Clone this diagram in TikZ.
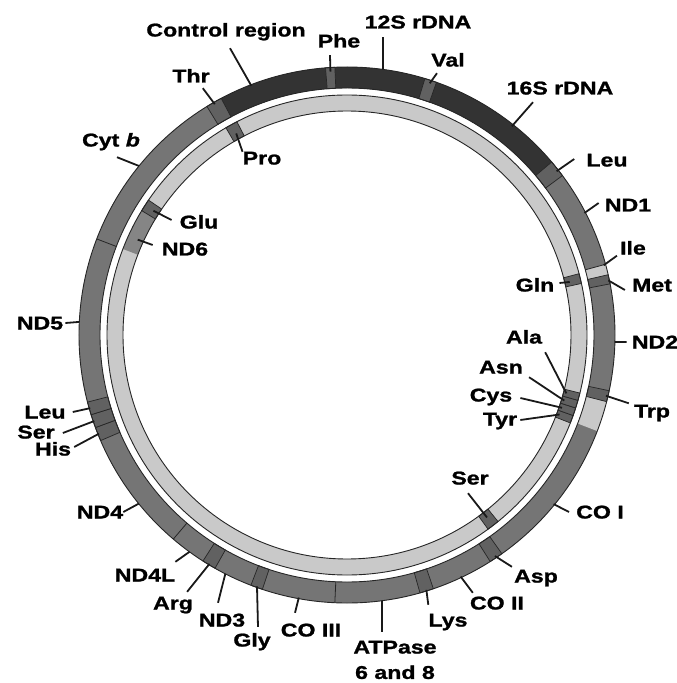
\documentclass[tikz,border=0pt]{standalone}
\usepackage{fontspec}
\setmainfont{Liberation Sans}[FakeStretch=1.25, BoldFeatures={FakeBold=1.2}, BoldItalicFeatures={FakeBold=1.2}]
\usetikzlibrary{positioning}
\tikzset{
  lbl/.style = {
    font=\bfseries\fontsize{18.5pt}{20pt}\selectfont,
    inner sep=1pt, text height=13pt, text depth=0pt
  },
  lblline/.style = {line width=1.8pt, black!90},
  ringedge/.style = {line width=0.9pt, black!85},
  outermid/.style = {fill=black!54},
  outerdark/.style = {fill=black!80},
  ringpale/.style = {fill=black!21},
  ndsix/.style = {fill=black!48},
  trna/.style = {fill=black!62, draw=black!85, line width=0.7pt},
  trnain/.style = {fill=black!62, draw=black!85, line width=0.7pt},
  sep/.style = {line width=0.8pt, black!85}
}
% band of a ring: style, from angle, to angle, outer radius, inner radius
\newcommand{\ringband}[5]{%
  \path[#1] (#2:#4) arc[start angle=#2, end angle=#3, radius=#4pt]
    -- (#3:#5) arc[start angle=#3, end angle=#2, radius=#5pt] -- cycle;}

\begin{document}
\begin{tikzpicture}[x=1pt, y=1pt]
\useasboundingbox (-347,-348) rectangle (330,335);

% ----- RINGS -----
\ringband{outermid}{0}{360}{268}{247}
\ringband{ringpale}{0}{360}{240}{224}
\ringband{outerdark}{40.2}{118}{268}{247}   % control region, 12S, 16S
\ringband{ringpale}{339}{345.6}{268}{247}
\ringband{ringpale}{13}{15.3}{268}{247}     % Ile
\ringband{ndsix}{148.8}{159}{240}{224}      % ND6

% tRNA boxes, outer ring
\ringband{trna}{118}{121.5}{268}{247}     % Thr
\ringband{trna}{92.6}{94.6}{268}{247}     % Phe
\ringband{trna}{70.5}{73.1}{268}{247}     % Val
\ringband{trna}{36.5}{40.2}{268}{247}     % Leu
\ringband{trna}{11}{13}{268}{247}         % Met
\ringband{trna}{345.6}{348}{268}{247}     % Trp
\ringband{trna}{302.3}{305.3}{268}{247}   % Asp
\ringband{trna}{285.8}{288.8}{268}{247}   % Lys
\ringband{trna}{249}{251.6}{268}{247}     % Gly
\ringband{trna}{237.5}{240.5}{268}{247}   % Arg
\ringband{trna}{200.2}{203.2}{268}{247}   % His
\ringband{trna}{197.3}{200.2}{268}{247}   % Ser
\ringband{trna}{194.5}{197.3}{268}{247}   % Leu

% tRNA boxes, inner ring
\ringband{trnain}{117.3}{120.3}{240}{224} % Pro
\ringband{trnain}{145.8}{148.8}{240}{224} % Glu
\ringband{trnain}{12.4}{14.8}{240}{224}   % Gln
\ringband{trnain}{338.5}{340.4}{240}{224} % Tyr
\ringband{trnain}{340.4}{342.3}{240}{224} % Cys
\ringband{trnain}{342.3}{344.2}{240}{224} % Asn
\ringband{trnain}{344.2}{346}{240}{224}   % Ala
\ringband{trnain}{306}{309}{240}{224}     % Ser

% gene borders
\draw[sep] (159:247) -- (159:268);
\draw[sep] (229.6:247) -- (229.6:268);
\draw[sep] (267.4:247) -- (267.4:268);
\draw[sep] (15.3:247) -- (15.3:268);

\draw[ringedge] (0,0) circle[radius=268pt];
\draw[ringedge] (0,0) circle[radius=247pt];
\draw[ringedge] (0,0) circle[radius=240pt];
\draw[ringedge] (0,0) circle[radius=224pt];

% ----- NODES (outside) -----
\node[lbl] (ctrl) at (-121,305) {Control region};
\node[lbl] (phe)  at (-8,294)   {Phe};
\node[lbl] (s12)  at (71,313)   {12S rDNA};
\node[lbl] (val)  at (101,275)  {Val};
\node[lbl] (s16)  at (213,247)  {16S rDNA};
\node[lbl] (leuA) at (260,175)  {Leu};
\node[lbl] (nd1)  at (281,130)  {ND1};
\node[lbl] (ile)  at (286,87)   {Ile};
\node[lbl] (met)  at (305,50)   {Met};
\node[lbl] (nd2)  at (308,-7)   {ND2};
\node[lbl] (trp)  at (305,-76)  {Trp};
\node[lbl] (co1)  at (253,-177) {CO I};
\node[lbl] (asp)  at (189,-241) {Asp};
\node[lbl] (co2)  at (150,-268) {CO II};
\node[lbl] (lys)  at (101,-285) {Lys};
\node[lbl] (atp)  at (48,-312)  {ATPase};
\node[lbl, below=10pt of atp] (atpB) {6 and 8};
\node[lbl] (co3)  at (-36,-295) {CO III};
\node[lbl] (gly)  at (-95,-305) {Gly};
\node[lbl] (nd3)  at (-125,-285) {ND3};
\node[lbl] (arg)  at (-174,-268) {Arg};
\node[lbl] (nd4l) at (-202,-240) {ND4L};
\node[lbl] (nd4)  at (-247,-177) {ND4};
\node[lbl] (his)  at (-294,-114) {His};
\node[lbl] (serA) at (-311,-97) {Ser};
\node[lbl] (leuB) at (-302,-77) {Leu};
\node[lbl] (nd5)  at (-307,12)  {ND5};
\node[lbl] (cytb) at (-236,195) {Cyt \textit{b}};
\node[lbl] (thr)  at (-156,259) {Thr};

% ----- NODES (inside) -----
\node[lbl] (pro)  at (-85,177)  {Pro};
\node[lbl] (glu)  at (-148,113) {Glu};
\node[lbl] (nd6)  at (-162,86)  {ND6};
\node[lbl] (gln)  at (188,50)   {Gln};
\node[lbl] (ala)  at (177,-2)   {Ala};
\node[lbl] (asn)  at (154,-32)  {Asn};
\node[lbl] (cys)  at (144,-60)  {Cys};
\node[lbl] (tyr)  at (153,-84)  {Tyr};
\node[lbl] (serB) at (123,-143) {Ser};

% ----- RING POINTS -----
\coordinate (ctrl-r) at (111:267);
\coordinate (phe-r)  at (93.6:264);
\coordinate (s12-r)  at (82.3:268);
\coordinate (val-r)  at (71.8:265);
\coordinate (s16-r)  at (51.7:266);
\coordinate (leuA-r) at (38:266);
\coordinate (nd1-r)  at (27.2:267);
\coordinate (ile-r)  at (15.2:266);
\coordinate (met-r)  at (11.8:267);
\coordinate (nd2-r)  at (358.5:268);
\coordinate (trp-r)  at (346.8:266);
\coordinate (co1-r)  at (320.7:267);
\coordinate (asp-r)  at (303.8:266);
\coordinate (co2-r)  at (295.2:267);
\coordinate (lys-r)  at (287.3:267);
\coordinate (atp-r)  at (277.5:268);
\coordinate (co3-r)  at (259.6:267);
\coordinate (gly-r)  at (250.3:267);
\coordinate (nd3-r)  at (243:268);
\coordinate (arg-r)  at (239:267);
\coordinate (nd4l-r) at (234:268);
\coordinate (nd4-r)  at (219:268);
\coordinate (his-r)  at (201.7:267);
\coordinate (serA-r) at (198.8:267);
\coordinate (leuB-r) at (195.9:267);
\coordinate (nd5-r)  at (177.2:268);
\coordinate (cytb-r) at (140.9:268);
\coordinate (thr-r)  at (119.8:266);
\coordinate (pro-r)  at (118.8:230);
\coordinate (glu-r)  at (147.3:230);
\coordinate (nd6-r)  at (155.5:230);
\coordinate (gln-r)  at (13.4:229);
\coordinate (ala-r)  at (345.1:227);
\coordinate (asn-r)  at (343.2:227);
\coordinate (cys-r)  at (341.3:227);
\coordinate (tyr-r)  at (339.5:227);
\coordinate (serB-r) at (307.5:230);

% ----- LEADER LINES -----
\draw[lblline] ([shift={(4,-10.5)}]ctrl.south) -- (ctrl-r);
\draw[lblline] ([shift={(-9,-6.5)}]phe.south) -- (phe-r);
\draw[lblline] ([shift={(-35,-7.5)}]s12.south) -- (s12-r);
\draw[lblline] ([shift={(-11,-5.5)}]val.south) -- (val-r);
\draw[lblline] ([shift={(-27,-6.5)}]s16.south) -- (s16-r);
\draw[lblline] ([shift={(-11,1)}]leuA.west) -- (leuA-r);
\draw[lblline] ([shift={(-5,2)}]nd1.west) -- (nd1-r);
\draw[lblline] ([shift={(-2,0)}]ile.south west) -- (ile-r);
\draw[lblline] ([shift={(-6,-5)}]met.west) -- (met-r);
\draw[lblline] ([shift={(-4,0)}]nd2.west) -- (nd2-r);
\draw[lblline] ([shift={(-4,0)}]trp.north west) -- (trp-r);
\draw[lblline] ([shift={(-6,0)}]co1.west) -- (co1-r);
\draw[lblline] ([shift={(-1,1.5)}]asp.north west) -- (asp-r);
\draw[lblline] ([shift={(4,2.5)}]co2.north west) -- (co2-r);
\draw[lblline] ([shift={(1,7.5)}]lys.north west) -- (lys-r);
\draw[lblline] ([shift={(-13,7.5)}]atp.north) -- (atp-r);
\draw[lblline] ([shift={(-16,9.5)}]co3.north) -- (co3-r);
\draw[lblline] ([shift={(6,5.5)}]gly.north) -- (gly-r);
\draw[lblline] ([shift={(-4,9.5)}]nd3.north) -- (nd3-r);
\draw[lblline] ([shift={(-7,3.5)}]arg.north east) -- (arg-r);
\draw[lblline] ([shift={(-1,5.5)}]nd4l.north east) -- (nd4l-r);
\draw[lblline] ([shift={(-1,0)}]nd4.east) -- (nd4-r);
\draw[lblline] ([shift={(2,2)}]his.east) -- (his-r);
\draw[lblline] ([shift={(7,-1)}]serA.east) -- (serA-r);
\draw[lblline] ([shift={(6,0)}]leuB.east) -- (leuB-r);
\draw[lblline] ([shift={(1,0)}]nd5.east) -- (nd5-r);
\draw[lblline] ([shift={(6,-9.5)}]cytb.south) -- (cytb-r);
\draw[lblline] ([shift={(-8,-4.5)}]thr.south east) -- (thr-r);

\draw[lblline] ([shift={(1,-1.5)}]pro.north west) -- (pro-r);
\draw[lblline] ([shift={(-7,2)}]glu.west) -- (glu-r);
\draw[lblline] ([shift={(-8,4)}]nd6.west) -- (nd6-r);
\draw[lblline] ([shift={(4,2)}]gln.east) -- (gln-r);
\draw[lblline] ([shift={(2,-7.5)}]ala.south east) -- (ala-r);
\draw[lblline] ([shift={(5,-2.5)}]asn.south east) -- (asn-r);
\draw[lblline] ([shift={(7,-3)}]cys.east) -- (cys-r);
\draw[lblline] ([shift={(2,-1)}]tyr.east) -- (tyr-r);
\draw[lblline] ([shift={(-2,-7.5)}]serB.south) -- (serB-r);

\end{tikzpicture}
\end{document}
